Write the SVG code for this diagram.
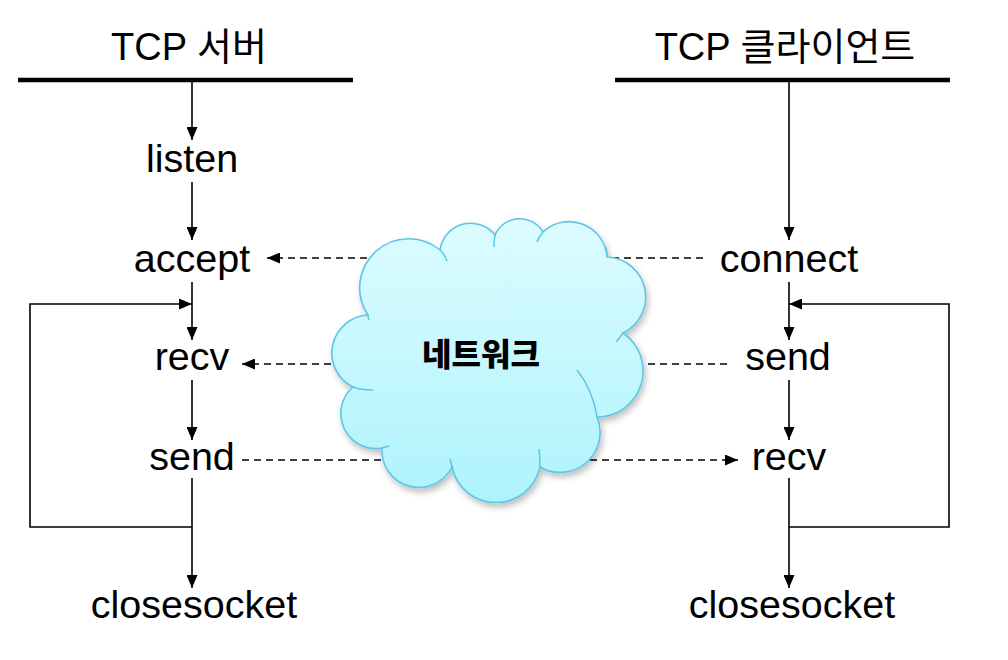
<svg xmlns="http://www.w3.org/2000/svg" width="1008" height="660" viewBox="0 0 1008 660">
<defs>
<style>
.lbl{font-family:"Liberation Sans",Arial,"Noto Sans CJK KR",sans-serif;font-size:39.5px;fill:#000;text-anchor:middle}
.hdr{font-family:"Liberation Sans",Arial,"Noto Sans CJK KR",sans-serif;font-size:38px;fill:#000;text-anchor:middle}
.solid{stroke:#000;stroke-width:1.6;fill:none}
.dash{stroke:#000;stroke-width:1.6;fill:none;stroke-dasharray:7 5}
.bar{stroke:#000;stroke-width:4.5}
.inner{stroke:#5cc6e6;stroke-width:1.5;fill:none}
</style>
<marker id="ah" viewBox="0 0 13 11" refX="13" refY="5.5" markerWidth="13" markerHeight="11" markerUnits="userSpaceOnUse" orient="auto">
<path d="M0,0 L13,5.5 L0,11 Z" fill="#000"/>
</marker>
<linearGradient id="cg" x1="0" y1="0" x2="0" y2="1">
<stop offset="0" stop-color="#dcfcff"/>
<stop offset="1" stop-color="#aef3fc"/>
</linearGradient>
<filter id="sh" x="-20%" y="-20%" width="140%" height="140%">
<feDropShadow dx="2" dy="4" stdDeviation="3" flood-color="#000" flood-opacity="0.25"/>
</filter>
</defs>
<rect width="1008" height="660" fill="#fff"/>

<g id="server-header">
<text class="hdr" x="189" y="60">TCP 서버</text>
<line class="bar" x1="18" y1="80" x2="353" y2="80"/>
</g>
<g id="client-header">
<text class="hdr" x="785" y="60">TCP 클라이언트</text>
<line class="bar" x1="615" y1="80" x2="950" y2="80"/>
</g>

<g id="connectors">
<line class="solid" x1="192" y1="82" x2="192" y2="140" marker-end="url(#ah)"/>
<line class="solid" x1="192" y1="182" x2="192" y2="240" marker-end="url(#ah)"/>
<line class="solid" x1="192" y1="282" x2="192" y2="340" marker-end="url(#ah)"/>
<line class="solid" x1="192" y1="380" x2="192" y2="440" marker-end="url(#ah)"/>
<line class="solid" x1="192" y1="478" x2="192" y2="588" marker-end="url(#ah)"/>
<polyline class="solid" points="192,527 30,527 30,304 192,304" marker-end="url(#ah)"/>

<line class="solid" x1="789" y1="82" x2="789" y2="240" marker-end="url(#ah)"/>
<line class="solid" x1="789" y1="282" x2="789" y2="340" marker-end="url(#ah)"/>
<line class="solid" x1="789" y1="380" x2="789" y2="440" marker-end="url(#ah)"/>
<line class="solid" x1="789" y1="478" x2="789" y2="588" marker-end="url(#ah)"/>
<polyline class="solid" points="789,527 949,527 949,304 789,304" marker-end="url(#ah)"/>

<line class="dash" x1="703" y1="258" x2="267" y2="258" marker-end="url(#ah)"/>
<line class="dash" x1="727" y1="364" x2="242" y2="364" marker-end="url(#ah)"/>
<line class="dash" x1="242" y1="460" x2="738" y2="460" marker-end="url(#ah)"/>
</g>

<g id="network">
<path filter="url(#sh)" fill="url(#cg)" stroke="#5cc6e6" stroke-width="1.6"
d="M368,315 A49,49 0 0 1 440,250 A31,31 0 0 1 495,235 A27,27 0 0 1 543,232 A38,38 0 0 1 607,257 A40,40 0 0 1 623,333 A46,46 0 0 1 597,417 A40,40 0 0 1 540,467 A45,45 0 0 1 452,467 A37,37 0 0 1 382,448 A35,35 0 0 1 353,387 A38,38 0 0 1 368,315 Z"/>
<path class="inner" d="M440,250 Q445,255 447,261"/>
<path class="inner" d="M495,235 Q494,241 494,247"/>
<path class="inner" d="M543,232 Q539,237 537,242"/>
<path class="inner" d="M607,257 Q607,252 606,247"/>
<path class="inner" d="M623,333 Q620,338 616,342"/>
<path class="inner" d="M577,370 Q593,390 597,417"/>
<path class="inner" d="M540,467 Q540,458 539,449"/>
<path class="inner" d="M452,467 Q451,463 450,459"/>
<path class="inner" d="M382,448 Q385,447 389,446"/>
<path class="inner" d="M353,387 Q360,390 373,390"/>
<path class="inner" d="M368,315 Q368,318 369,320"/>
<text x="481" y="366" font-family="'Noto Sans CJK KR',sans-serif" font-size="32" font-weight="900" text-anchor="middle" fill="#000">네트워크</text>
</g>

<g id="listen"><text class="lbl" x="192" y="172">listen</text></g>
<g id="accept"><text class="lbl" x="192" y="272">accept</text></g>
<g id="server-recv"><text class="lbl" x="192" y="370">recv</text></g>
<g id="server-send"><text class="lbl" x="192" y="470">send</text></g>
<g id="server-closesocket"><text class="lbl" x="194" y="618">closesocket</text></g>

<g id="connect"><text class="lbl" x="789" y="272">connect</text></g>
<g id="client-send"><text class="lbl" x="788" y="370">send</text></g>
<g id="client-recv"><text class="lbl" x="789" y="470">recv</text></g>
<g id="client-closesocket"><text class="lbl" x="792" y="618">closesocket</text></g>
</svg>
